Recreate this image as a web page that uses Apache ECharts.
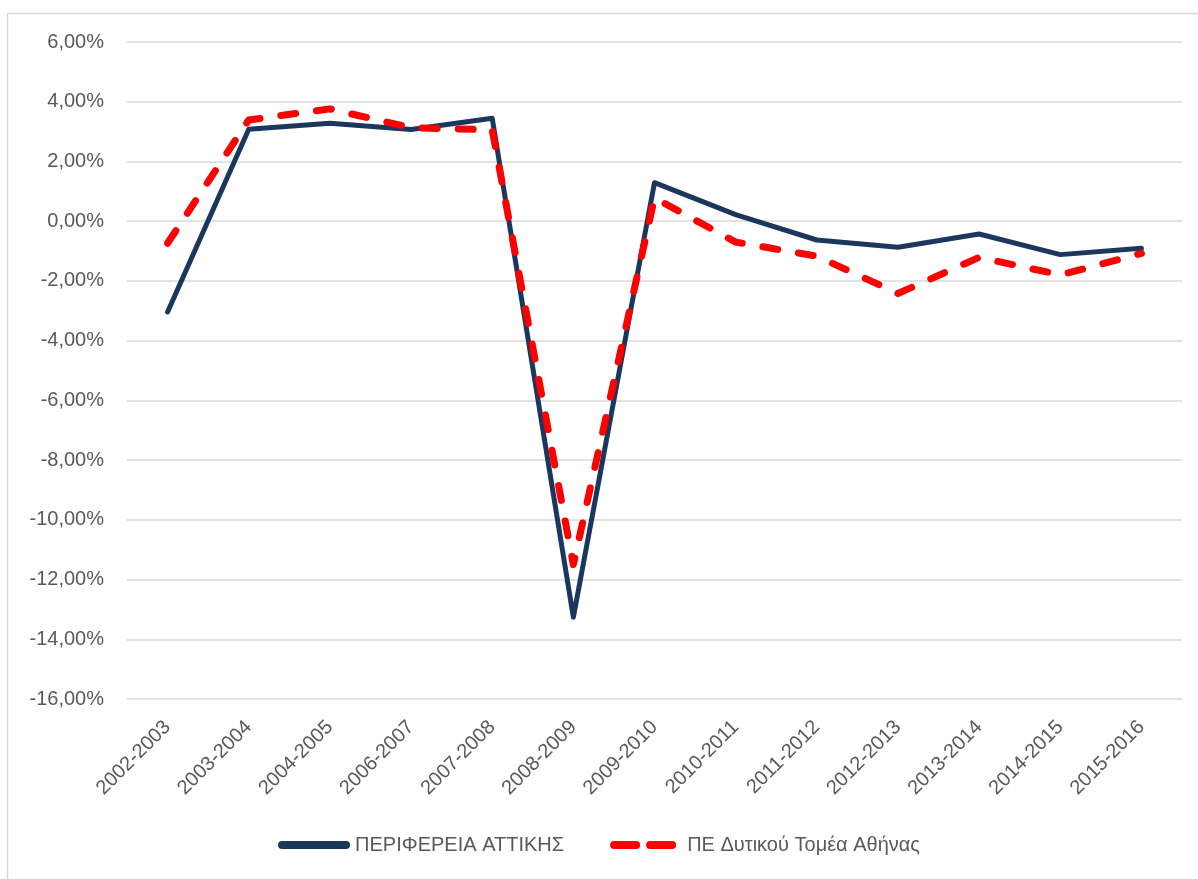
<!DOCTYPE html>
<html>
<head>
<meta charset="utf-8">
<script src="https://cdn.jsdelivr.net/npm/echarts@6/dist/echarts.min.js"></script>
<style>
  html, body { margin: 0; padding: 0; background: #fff; }
  #chart { width: 1198px; height: 879px; }
</style>
</head>
<body>
<div id="chart"></div>
<script>
// periods on the x axis
const categories = [
  "2002-2003", "2003-2004", "2004-2005", "2006-2007", "2007-2008", "2008-2009",
  "2009-2010", "2010-2011", "2011-2012", "2012-2013", "2013-2014", "2014-2015", "2015-2016"
];
// values in %
const attiki = [-3.04, 3.08, 3.28, 3.07, 3.45, -13.26, 1.29, 0.22, -0.63, -0.87, -0.43, -1.12, -0.91];
const dytikos = [-0.74, 3.39, 3.76, 3.13, 3.06, -11.5, 0.78, -0.70, -1.17, -2.42, -1.21, -1.80, -1.08];
const seriesNames = ["ΠΕΡΙΦΕΡΕΙΑ ΑΤΤΙΚΗΣ", "ΠΕ Δυτικού Τομέα Αθήνας"];

const FONT = "Liberation Sans";
const TEXT = "#595959";
const NAVY = "#1c375e";
const RED = "#ff0000";

// legend icons: solid capsule / two dashes
const solidIcon = "path://M4,0 H68 A4,4 0 0 1 68,8 H4 A4,4 0 0 1 4,0 Z";
const dashIcon = "path://M4,0 H26 A4,4 0 0 1 26,8 H4 A4,4 0 0 1 4,0 Z " +
  "M40,0 H62 A4,4 0 0 1 62,8 H40 A4,4 0 0 1 40,0 Z M71.9,3.9 L72,4 L71.9,4.1 Z";

const myChart = echarts.init(document.getElementById("chart"));

myChart.setOption({
  animation: false,
  textStyle: { fontFamily: FONT },
  graphic: [
    {
      // chart frame (only top & left edges visible)
      type: "rect",
      shape: { x: 7.5, y: 13.5, width: 1400, height: 1000 },
      style: { fill: "none", stroke: "#d9d9d9", lineWidth: 1.5 },
      silent: true
    }
  ],
  grid: {
    left: 127,
    right: 16,
    top: 42,
    bottom: 180,
    containLabel: false
  },
  legend: {
    bottom: 19,
    left: "center",
    itemWidth: 72,
    itemHeight: 8,
    itemGap: 46,
    textStyle: { color: TEXT, fontSize: 20, fontFamily: FONT },
    data: [
      { name: seriesNames[0], icon: solidIcon, itemStyle: { color: NAVY } },
      { name: seriesNames[1], icon: dashIcon, itemStyle: { color: RED } }
    ]
  },
  xAxis: {
    type: "category",
    data: categories,
    boundaryGap: true,
    axisLine: { show: false },
    axisTick: { show: false },
    axisLabel: {
      rotate: 45,
      color: TEXT,
      fontSize: 20,
      margin: 25,
      interval: 0
    }
  },
  yAxis: {
    type: "value",
    min: -16,
    max: 6,
    interval: 2,
    axisLine: { show: false },
    axisTick: { show: false },
    splitLine: { lineStyle: { color: "#d9d9d9", width: 1.5 } },
    axisLabel: {
      color: TEXT,
      fontSize: 20,
      margin: 23,
      formatter: v => v.toFixed(2).replace(".", ",") + "%"
    }
  },
  series: [
    {
      name: seriesNames[0],
      type: "line",
      data: attiki,
      symbol: "none",
      lineStyle: { color: NAVY, width: 5, cap: "round", join: "round" },
      itemStyle: { color: NAVY }
    },
    {
      name: seriesNames[1],
      type: "line",
      data: dytikos,
      symbol: "none",
      z: 3,
      lineStyle: { color: RED, width: 7, type: [15, 21], cap: "round", join: "round" },
      itemStyle: { color: RED }
    }
  ]
});
</script>
</body>
</html>
